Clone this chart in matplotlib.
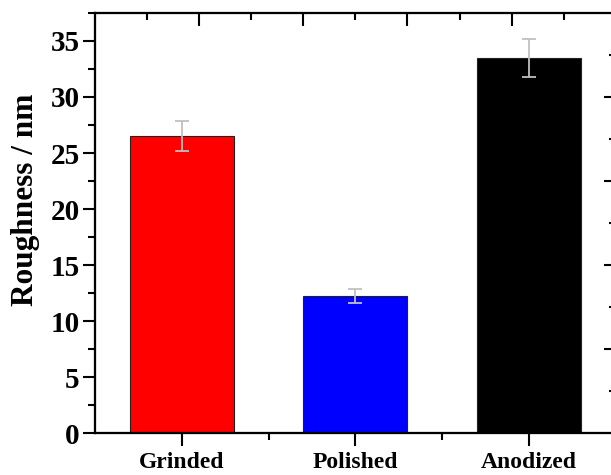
import matplotlib
matplotlib.use("Agg")
import matplotlib.pyplot as plt
from matplotlib.ticker import MultipleLocator, FixedLocator, NullFormatter

categories = ["Grinded", "Polished", "Anodized"]
roughness = [26.5, 12.2, 33.5]
errors = [1.35, 0.62, 1.7]
colors = ["#ff0000", "#0000ff", "#000000"]
y_ticks = [0, 5, 10, 15, 20, 25, 30, 35]

plt.rcParams['font.family'] = ['Liberation Serif', 'DejaVu Serif']
plt.rcParams['font.weight'] = 'bold'

fig = plt.figure(figsize=(6.11, 4.75), dpi=100)
W, H = 611, 475
x0, x1 = 95, 615.75
y0, y1 = 433, 13
ax = fig.add_axes([x0 / W, (H - y0) / H, (x1 - x0) / W, (y0 - y1) / H])

pos = list(range(1, len(categories) + 1))
ax.bar(pos, roughness, width=0.6, color=colors, edgecolor="#222222", linewidth=0.8, zorder=2)
ax.errorbar(pos, roughness, yerr=errors, fmt="none", ecolor="#c0c0c0",
            elinewidth=1.3, capsize=5, capthick=1.3, zorder=3)

ax.set_xlim(0.5, 3.5)
ax.set_ylim(0, 37.5)
ax.set_yticks(y_ticks)
ax.yaxis.set_minor_locator(MultipleLocator(2.5))
ax.set_xticks(pos)
ax.set_xticklabels(categories, fontsize=17, fontweight='bold')
ax.xaxis.set_minor_locator(FixedLocator([1.5, 2.5]))
ax.tick_params(axis='y', labelsize=21, width=1.5, length=9, direction='out', pad=2)
ax.tick_params(axis='y', which='minor', width=1.5, length=5, direction='out')
ax.tick_params(axis='x', width=1.5, length=9, direction='out', pad=5)
ax.tick_params(axis='x', which='minor', width=1.5, length=5, direction='out')
for lab in ax.get_yticklabels():
    lab.set_fontweight('bold')
ax.set_ylabel("Roughness / nm", fontsize=22.5, fontweight='bold')
ax.yaxis.set_label_coords(-0.106, 0.555)

for s in ax.spines.values():
    s.set_linewidth(1.5)

# Top axis ticks (inward)
axt = ax.twiny()
axt.set_xlim(ax.get_xlim())
axt.xaxis.set_major_locator(FixedLocator([1.1, 1.7, 2.3, 2.9]))
axt.xaxis.set_minor_locator(FixedLocator([0.8, 1.4, 2.0, 2.6, 3.2]))
axt.xaxis.set_major_formatter(NullFormatter())
axt.tick_params(axis='x', which='major', direction='in', length=9, width=1.5)
axt.tick_params(axis='x', which='minor', direction='in', length=5, width=1.5)

# Right axis ticks (inward)
axr = ax.twinx()
axr.set_ylim(ax.get_ylim())
axr.yaxis.set_major_locator(FixedLocator([7.5, 15, 22.5, 30]))
axr.yaxis.set_minor_locator(FixedLocator([3.75, 11.25, 18.75, 26.25, 33.75]))
axr.yaxis.set_major_formatter(NullFormatter())
axr.tick_params(axis='y', which='major', direction='in', length=9, width=1.5)
axr.tick_params(axis='y', which='minor', direction='in', length=5, width=1.5)
for a in (axt, axr):
    for s in a.spines.values():
        s.set_linewidth(1.5)

fig.savefig("out.png", dpi=100)
